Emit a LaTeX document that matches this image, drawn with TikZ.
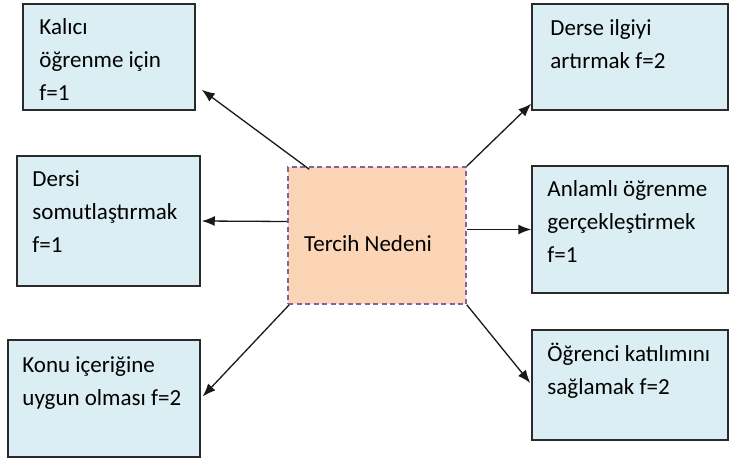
\documentclass[tikz,border=0pt]{standalone}
\usepackage{fontspec}
\setmainfont{Carlito}
\usetikzlibrary{arrows.meta,calc}
\definecolor{boxblue}{HTML}{DAEEF3}
\definecolor{boxorange}{HTML}{FBD5B5}
\definecolor{dashpurple}{HTML}{8064A2}
\definecolor{edgegray}{HTML}{2A2A2A}
\tikzset{
  bluebox/.style={draw=edgegray,line width=1.5pt,fill=boxblue,rectangle,inner sep=0pt},
  centerbox/.style={draw=dashpurple,line width=1.5pt,dash pattern=on 5pt off 3.5pt,fill=boxorange,rectangle,inner sep=0pt},
  boxtext/.style={anchor=north west,align=left,inner sep=0pt,font=\fontsize{23}{33}\selectfont},
  conn/.style={draw=black!90,line width=1.3pt,-{Latex[length=13pt,width=10pt]}}
}
\begin{document}
\begin{tikzpicture}[x=1pt,y=-1pt]
\useasboundingbox (0,0) rectangle (729,460);
% boxes (pixel coordinates, y downward)
\node[bluebox,minimum width=172pt,minimum height=106pt] (k1) at (109,57) {};
\node[bluebox,minimum width=196pt,minimum height=106pt] (k2) at (630,57) {};
\node[bluebox,minimum width=183pt,minimum height=130pt] (k3) at (108.5,221) {};
\node[centerbox,minimum width=178pt,minimum height=137pt] (c) at (377,235.5) {};
\node[bluebox,minimum width=196pt,minimum height=127pt] (k5) at (630,229.5) {};
\node[bluebox,minimum width=192pt,minimum height=117pt] (k4) at (104,398.5) {};
\node[bluebox,minimum width=196pt,minimum height=110pt] (k6) at (630,385) {};
% texts
\node[boxtext] (t1) at ($(k1.north west)+(17,15)$) {Kalıcı\\öğrenme için\\f=1};
\node[boxtext] (t2) at ($(k2.north west)+(19,16)$) {Derse ilgiyi\\artırmak f=2};
\node[boxtext] (t3) at ($(k3.north west)+(16,15)$) {Dersi\\somutlaştırmak\\f=1};
\node[font=\fontsize{23}{33}\selectfont,inner sep=0pt] (tc) at ($(c.center)+(-9,8)$) {Tercih Nedeni};
\node[boxtext] (t5) at ($(k5.north west)+(16,15)$) {Anlamlı öğrenme\\gerçekleştirmek\\f=1};
\node[boxtext] (t4) at ($(k4.north west)+(15,17)$) {Konu içeriğine\\uygun olması f=2};
\node[boxtext] (t6) at ($(k6.north west)+(16,14)$) {Öğrenci katılımını\\sağlamak f=2};
% connectors
\draw[conn] ($(c.north west)+(22,3)$) -- ($(k1.south east)+(6,-21)$);
\draw[conn] (c.north east) -- ($(k2.south west)+(0,-7)$);
\draw[conn] ($(c.west)+(0,-14)$) -- ($(k3.east)+(1,0)$);
\draw[conn] ($(c.east)+(0,-6)$) -- (k5.west);
\draw[conn] ($(c.south west)+(2,0)$) -- ($(k4.east)+(2,-2)$);
\draw[conn] (c.south east) -- ($(k6.west)+(-1,-2)$);
\end{tikzpicture}
\end{document}
